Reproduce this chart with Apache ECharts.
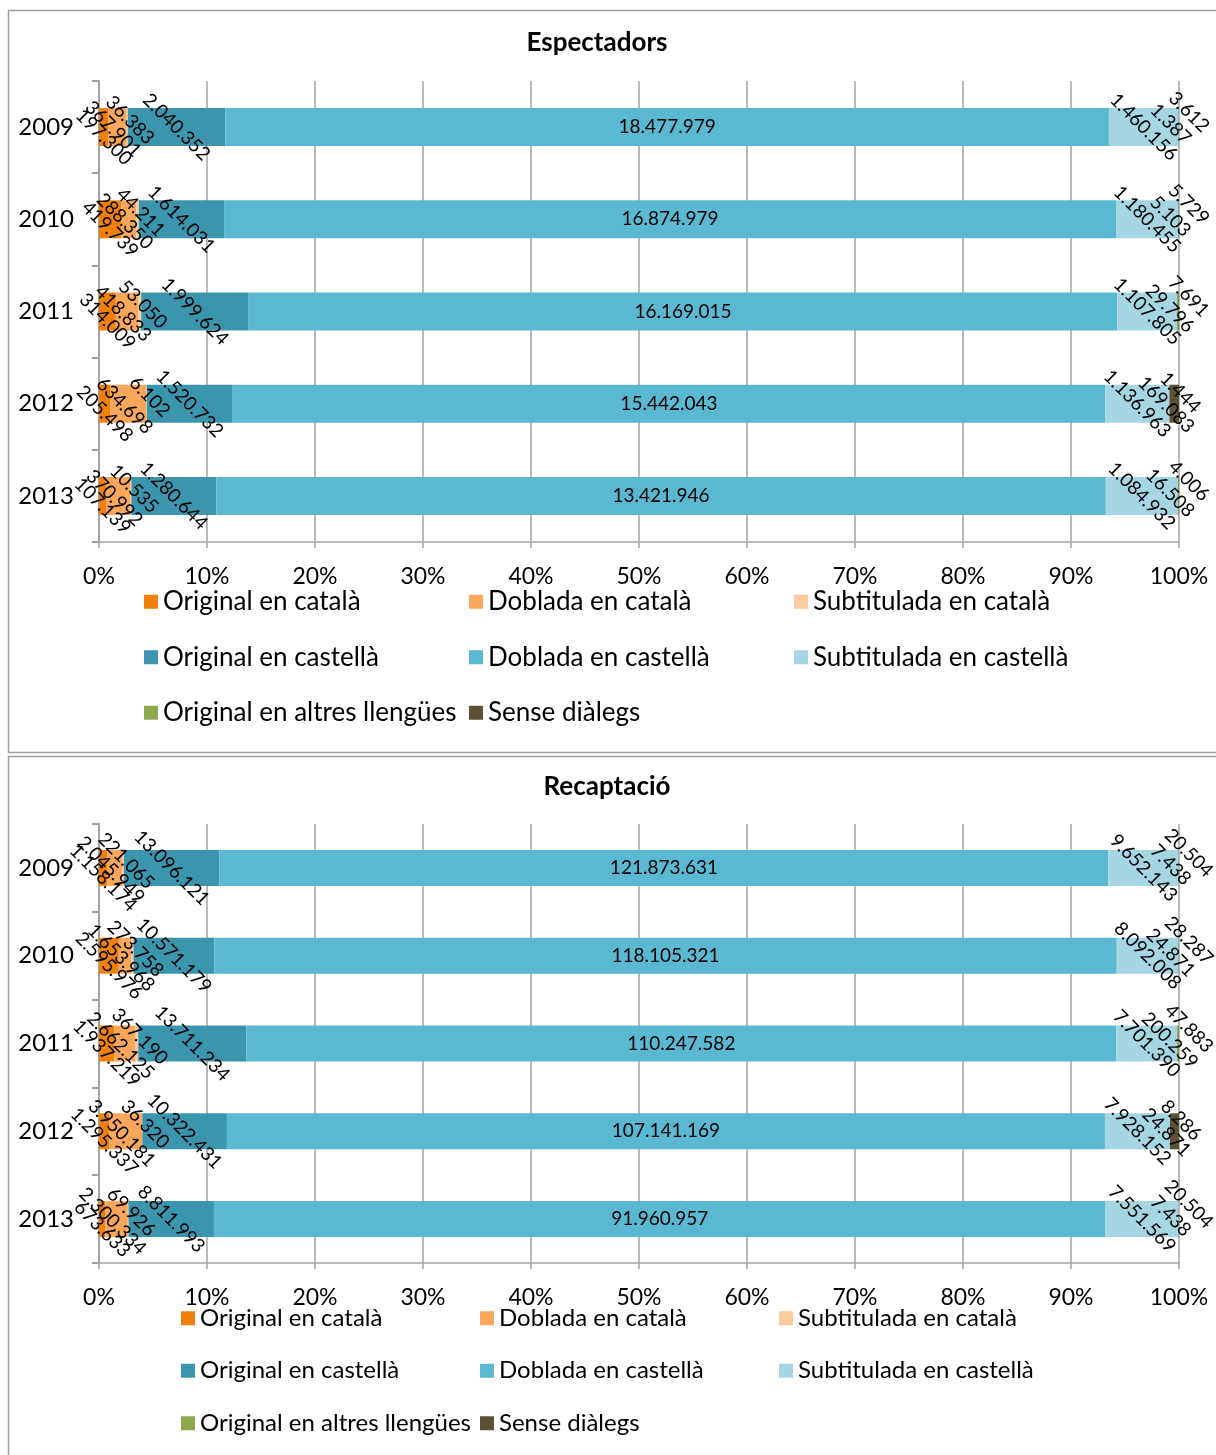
<!DOCTYPE html>
<html><head><meta charset="utf-8">
<script src="https://cdn.jsdelivr.net/npm/echarts@6/dist/echarts.min.js"></script>
<style>html,body{margin:0;padding:0;background:#fff}#c{width:1216px;height:1455px}</style>
</head><body><div id="c"></div>
<script>
// ---------- data ----------
const years = ['2009', '2010', '2011', '2012', '2013'];
const seriesNames = ['Original en català', 'Doblada en català', 'Subtitulada en català',
  'Original en castellà', 'Doblada en castellà', 'Subtitulada en castellà',
  'Original en altres llengües', 'Sense diàlegs'];
const xTickValues = [0, 10, 20, 30, 40, 50, 60, 70, 80, 90, 100];

// Espectadors
const espOriginalCat   = [197300, 419739, 314009, 205498, 107139];
const espDobladaCat    = [367901, 288350, 418833, 634698, 370992];
const espSubtitCat     = [36383, 44211, 53050, 6102, 10535];
const espOriginalCast  = [2040352, 1614031, 1999624, 1520732, 1280644];
const espDobladaCast   = [18477979, 16874979, 16169015, 15442043, 13421946];
const espSubtitCast    = [1460156, 1180455, 1107805, 1136963, 1084932];
const espAltres        = [1387, 5103, 29796, 1444, 16508];
const espSense         = [3612, 5729, 7691, 169083, 4006];

// Recaptació
const recOriginalCat   = [1158174, 2595976, 1937219, 1295337, 673633];
const recDobladaCat    = [2045949, 1653968, 2662125, 3950181, 2300334];
const recSubtitCat     = [221065, 273758, 367190, 36320, 69926];
const recOriginalCast  = [13096121, 10571179, 13711234, 10322431, 8811993];
const recDobladaCast   = [121873631, 118105321, 110247582, 107141169, 91960957];
const recSubtitCast    = [9652143, 8092008, 7701390, 7928152, 7551569];
const recAltres        = [7438, 24871, 200259, 8286, 7438];
const recSense         = [20504, 28287, 47883, 1100000, 20504];
// label text shown in the original where it differs from the bar value
const recSenseLabelShown = [null, null, null, 24871, null];

// ---------- styles ----------
const colors = ['#F08009', '#F9A85B', '#FBCB9F', '#3A95AD', '#5BB8D1', '#A6D6E3', '#8EA84D', '#5C5233'];
const FONT = 'Lato';
// screen-space label nudges (px) used to spread out labels of thin segments
const labelShift = [[0, 10], [-4, 2], [3, -7], [0, 0], [0, 0], [0, 0], [-8, -3], [10, -15]];
const labelShift2012 = {6: [11, -11], 7: [-8, 1]};

function fmt(v) { return String(v).replace(/\B(?=(\d{3})+(?!\d))/g, '.'); }

const charts = [
  {title: 'Espectadors', titleX: 597, titleY: 43,
   sets: [espOriginalCat, espDobladaCat, espSubtitCat, espOriginalCast, espDobladaCast, espSubtitCast, espAltres, espSense],
   shown: {},
   grid: {left: 99, top: 81, width: 1080, height: 461}, barWidth: 38,
   legend: {left: 139, top: 569, col: 325, row: 55.5, font: 26}},
  {title: 'Recaptació', titleX: 607, titleY: 787,
   sets: [recOriginalCat, recDobladaCat, recSubtitCat, recOriginalCast, recDobladaCast, recSubtitCast, recAltres, recSense],
   shown: {7: recSenseLabelShown},
   grid: {left: 99, top: 824, width: 1080, height: 439}, barWidth: 36,
   legend: {left: 176, top: 1287, col: 299, row: 52.5, font: 24}}
];

const grids = [], xAxes = [], yAxes = [], series = [], legends = [], graphics = [];
const axisGrey = '#A3A3A3';
const R = Math.SQRT1_2;

charts.forEach((c, ci) => {
  grids.push(Object.assign({containLabel: false}, c.grid));
  xAxes.push({
    type: 'value', gridIndex: ci, min: 0, max: 100, interval: 10,
    axisLine: {show: true, lineStyle: {color: axisGrey, width: 1.5}},
    axisTick: {show: true, length: 6, lineStyle: {color: axisGrey, width: 1.5}},
    splitLine: {show: true, lineStyle: {color: axisGrey, width: 1.5}},
    axisLabel: {formatter: v => (xTickValues.indexOf(v) >= 0 ? v + '%' : ''), color: '#000',
      fontFamily: FONT, fontSize: 23, margin: 23}
  });
  yAxes.push({
    type: 'category', gridIndex: ci, data: years, inverse: true,
    axisLine: {show: true, lineStyle: {color: axisGrey, width: 2}},
    axisTick: {show: true, length: 7, alignWithLabel: false, lineStyle: {color: axisGrey, width: 2}},
    splitLine: {show: false},
    axisLabel: {color: '#000', fontFamily: FONT, fontSize: 24, margin: 25}
  });
  const totals = years.map((y, i) => c.sets.reduce((s, arr) => s + arr[i], 0));
  c.sets.forEach((arr, si) => {
    const shownArr = c.shown[si];
    const rotated = si !== 4;
    series.push({
      name: seriesNames[si], type: 'bar', stack: 'total' + ci,
      xAxisIndex: ci, yAxisIndex: ci, barWidth: c.barWidth,
      itemStyle: {color: colors[si]},
      data: arr.map((v, i) => v / totals[i] * 100),
      label: {
        show: true, position: 'inside', rotate: rotated ? -45 : 0,
        color: '#000', fontFamily: FONT, fontSize: 19,
        formatter: p => fmt(shownArr && shownArr[p.dataIndex] != null ? shownArr[p.dataIndex] : arr[p.dataIndex])
      },
      labelLayout: p => {
        let s = labelShift[si];
        if (p.dataIndex === 3 && labelShift2012[si]) s = labelShift2012[si];
        // offsets are applied in the label's rotated frame: convert from screen space
        if (rotated) return {dx: (s[0] + s[1]) * R, dy: (s[1] - s[0]) * R};
        return {dx: s[0], dy: s[1]};
      },
      emphasis: {disabled: true}
    });
  });
  const L = c.legend;
  legends.push({
    left: L.left, top: L.top, width: L.col * 3, orient: 'horizontal',
    itemWidth: 14, itemHeight: 14, itemGap: 0, icon: 'rect',
    data: seriesNames,
    textStyle: {fontFamily: FONT, fontSize: L.font, color: '#000',
      width: L.col - 19, lineHeight: L.row, overflow: 'none'},
    selectedMode: false
  });
  graphics.push({type: 'text', x: c.titleX, y: c.titleY,
    style: {text: c.title, x: 0, y: 0, textAlign: 'center', textVerticalAlign: 'middle',
      font: 'bold 26px ' + FONT, fill: '#000'}});
});

graphics.push({type: 'rect', shape: {x: 8.5, y: 10.5, width: 1230, height: 742},
  style: {fill: 'none', stroke: '#A0A0A0', lineWidth: 1.5}, silent: true, z: -1});
graphics.push({type: 'rect', shape: {x: 8.5, y: 756.5, width: 1230, height: 720},
  style: {fill: 'none', stroke: '#A0A0A0', lineWidth: 1.5}, silent: true, z: -1});

const chart = echarts.init(document.getElementById('c'), null, {renderer: 'canvas'});
chart.setOption({
  animation: false,
  backgroundColor: '#fff',
  grid: grids, xAxis: xAxes, yAxis: yAxes, series: series, legend: legends,
  graphic: graphics
});
</script></body></html>
